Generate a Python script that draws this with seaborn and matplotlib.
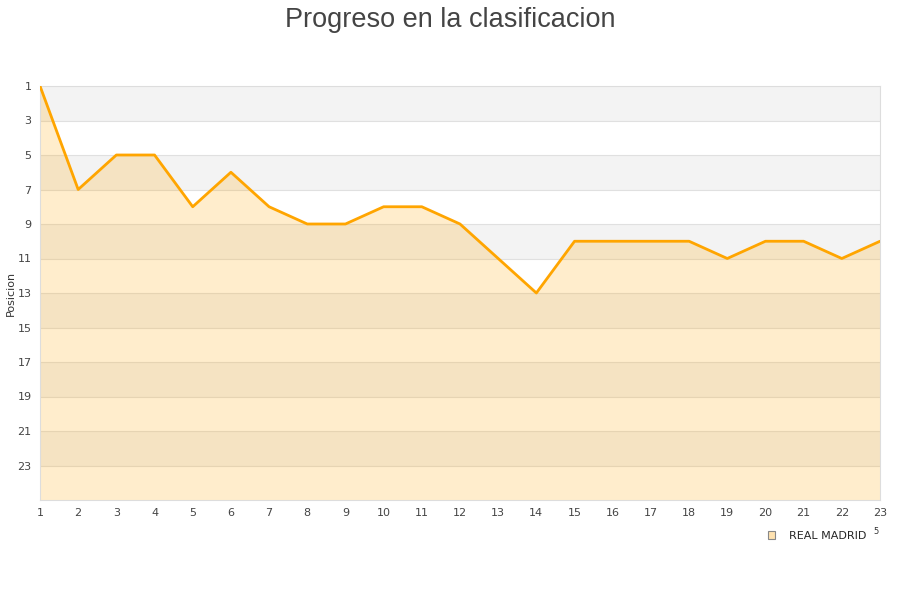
import matplotlib
matplotlib.use('Agg')
import matplotlib.pyplot as plt
import seaborn as sns
import pandas as pd
from matplotlib.patches import Patch

# Data
jornadas = list(range(1, 24))
posicion = [1, 7, 5, 5, 8, 6, 8, 9, 9, 8, 8, 9, 11, 13, 10, 10, 10, 10, 11, 10, 10, 11, 10]
team = 'REAL MADRID'
y_ticks = list(range(1, 24, 2))

df = pd.DataFrame({'jornada': jornadas, 'posicion': posicion})

sns.set_style('white')
fig = plt.figure(figsize=(9, 6), dpi=100)
ax = fig.add_axes([40 / 900, 100 / 600, 840 / 900, 414 / 600])

# alternating bands
for start in range(1, 25, 4):
    ax.axhspan(start, start + 2, color='#f3f3f3', lw=0, zorder=0)
for y in range(3, 25, 2):
    ax.axhline(y, color='#e0e0e0', lw=0.8, zorder=1)

ax.fill_between(df['jornada'], df['posicion'], 25, color='#ffa500', alpha=0.2, lw=0, zorder=2)
sns.lineplot(data=df, x='jornada', y='posicion', color='#ffa500', lw=2, ax=ax, zorder=3)

ax.set_xlim(1, 23)
ax.set_ylim(25, 1)
ax.set_xticks(jornadas)
ax.set_yticks(y_ticks)
ax.tick_params(axis='both', length=0, labelsize=8, colors='#444444', pad=6)
ax.set_xlabel('')
ax.set_ylabel('')
for s in ax.spines.values():
    s.set_color('#dddddd')
    s.set_linewidth(0.8)

fig.text(11 / 900, 1 - 293 / 600, 'Posicion', rotation=90, ha='center', va='center',
         fontsize=8, color='#333333')
fig.text(0.5, 0.988, 'Progreso en la clasificacion', ha='center', va='top',
         fontsize=19.5, color='#444444', family='Liberation Sans')

handle = Patch(facecolor='#ffe2b0', edgecolor='#888888', lw=0.8)
fig.legend([handle], [team], loc='center right', bbox_to_anchor=(876 / 900, 1 - 536 / 600),
           frameon=False, fontsize=8, handlelength=0.7, handleheight=0.7, handletextpad=1.2)
fig.text(876 / 900, 1 - 531 / 600, '5', fontsize=6, color='#333333', ha='center', va='center')

fig.savefig('out.png', dpi=100)
